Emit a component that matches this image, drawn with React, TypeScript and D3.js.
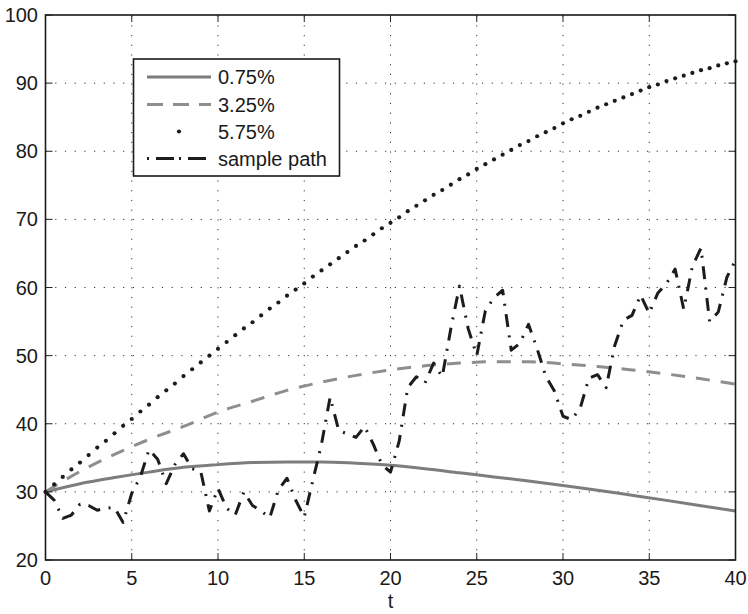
import React from "react";
import * as d3 from "d3";

const X_TICKS = [0, 5, 10, 15, 20, 25, 30, 35, 40];
const Y_TICKS = [20, 30, 40, 50, 60, 70, 80, 90, 100];

// 0.75% (solid) sampled every 2 units of t
const T_SMOOTH = [0, 2, 4, 6, 8, 10, 12, 14, 16, 18, 20, 22, 24, 26, 28, 30, 32, 34, 36, 38, 40];
const RATE_075 = [30, 31.2, 32.1, 32.9, 33.6, 34.0, 34.3, 34.4, 34.4, 34.2, 33.9, 33.4, 32.8, 32.2, 31.6, 30.95, 30.25, 29.5, 28.75, 27.97, 27.2];
const RATE_325 = [30, 33.0, 35.5, 37.7, 39.6, 41.7, 43.3, 44.9, 46.1, 47.1, 47.9, 48.5, 48.9, 49.1, 49.1, 48.8, 48.4, 47.9, 47.3, 46.6, 45.8];

// t grid with step 0.5 (0 .. 40)
const T_FINE = [
  0, 0.5, 1, 1.5, 2, 2.5, 3, 3.5, 4, 4.5, 5, 5.5, 6, 6.5, 7, 7.5, 8, 8.5, 9, 9.5,
  10, 10.5, 11, 11.5, 12, 12.5, 13, 13.5, 14, 14.5, 15, 15.5, 16, 16.5, 17, 17.5, 18, 18.5, 19, 19.5,
  20, 20.5, 21, 21.5, 22, 22.5, 23, 23.5, 24, 24.5, 25, 25.5, 26, 26.5, 27, 27.5, 28, 28.5, 29, 29.5,
  30, 30.5, 31, 31.5, 32, 32.5, 33, 33.5, 34, 34.5, 35, 35.5, 36, 36.5, 37, 37.5, 38, 38.5, 39, 39.5, 40,
];

const RATE_575 = [
  30.0, 31.1, 32.2, 33.3, 34.3, 35.4, 36.5, 37.5, 38.6, 39.7, 40.7, 41.8, 42.8, 43.9, 44.9, 45.9, 47.0, 48.0, 49.0, 50.0,
  51.0, 52.0, 53.0, 54.0, 54.9, 55.9, 56.9, 57.8, 58.8, 59.7, 60.6, 61.6, 62.5, 63.4, 64.3, 65.2, 66.1, 66.9, 67.8, 68.7,
  69.5, 70.3, 71.2, 72.0, 72.8, 73.6, 74.3, 75.1, 75.9, 76.6, 77.4, 78.1, 78.8, 79.5, 80.2, 80.9, 81.5, 82.2, 82.8, 83.4,
  84.1, 84.7, 85.2, 85.8, 86.4, 86.9, 87.4, 87.9, 88.4, 88.9, 89.4, 89.8, 90.3, 90.7, 91.1, 91.5, 91.9, 92.2, 92.6, 92.9, 93.2,
];

const SAMPLE_PATH = [
  30.0, 28.8, 26.1, 26.6, 28.2, 28.0, 27.3, 27.6, 27.7, 25.5, 29.8, 32.2, 36.2, 34.8, 31.2, 34.0, 35.6, 33.4, 33.0, 27.2,
  30.5, 27.6, 26.6, 30.0, 28.0, 27.2, 26.2, 30.3, 32.0, 28.8, 26.3, 31.7, 37.0, 43.9, 39.0, 38.5, 38.0, 39.6, 37.0, 34.0,
  32.9, 37.4, 45.3, 46.9, 46.0, 48.9, 46.9, 54.0, 60.2, 54.0, 50.0, 56.6, 58.5, 59.6, 50.8, 51.8, 54.6, 51.0, 47.0, 44.8,
  41.1, 40.6, 42.3, 46.7, 47.2, 45.3, 51.5, 55.2, 55.9, 58.9, 56.2, 59.2, 60.6, 62.7, 56.8, 63.1, 65.8, 55.0, 56.4, 61.5, 64.0,
];

const LEGEND_LABELS = ["0.75%", "3.25%", "5.75%", "sample path"];

const W = 748;
const H = 614;
const M = { left: 45.5, right: 735.5, top: 15, bottom: 560 };
const FONT = "'Liberation Sans', Arial, Helvetica, sans-serif";

export default function App() {
  const x = d3.scaleLinear().domain([0, 40]).range([M.left, M.right]);
  const y = d3.scaleLinear().domain([20, 100]).range([M.bottom, M.top]);

  const smooth = d3
    .line<number>()
    .x((_, i) => x(T_SMOOTH[i]))
    .y((d) => y(d))
    .curve(d3.curveMonotoneX);
  const fine = d3
    .line<number>()
    .x((_, i) => x(T_FINE[i]))
    .y((d) => y(d));

  const gray1 = "#7d7d7d";
  const gray2 = "#8e8e8e";
  const dark = "#1c1c1c";

  const legendX0 = 133.5;
  const legendY0 = 59;
  const legendW = 206;
  const legendH = 117;
  const rowY = [77, 104.5, 131.5, 158.5];
  const lx1 = 147;
  const lx2 = 211;

  return (
    <svg
      width={W}
      height={H}
      style={{ position: "absolute", left: 0, top: 0, background: "#fff" }}
      fontFamily={FONT}
    >
      <rect x={0} y={0} width={W} height={H} fill="#fff" />
      {/* grid */}
      <g stroke="#333" strokeWidth={1} strokeDasharray="1.2 8.5">
        {X_TICKS.slice(1, -1).map((t) => (
          <line key={"gx" + t} x1={x(t)} x2={x(t)} y1={M.bottom} y2={M.top} />
        ))}
        {Y_TICKS.slice(1, -1).map((v) => (
          <line key={"gy" + v} x1={M.left} x2={M.right} y1={y(v)} y2={y(v)} />
        ))}
      </g>
      {/* series */}
      <path d={smooth(RATE_075) || ""} fill="none" stroke={gray1} strokeWidth={3} />
      <path
        d={smooth(RATE_325) || ""}
        fill="none"
        stroke={gray2}
        strokeWidth={3}
        strokeDasharray="14 11"
      />
      <g fill={dark}>
        {RATE_575.map((v, i) => (
          <circle key={"d" + i} cx={x(T_FINE[i])} cy={y(v)} r={2.1} />
        ))}
      </g>
      <path
        d={fine(SAMPLE_PATH) || ""}
        fill="none"
        stroke={dark}
        strokeWidth={3}
        strokeDasharray="13 8.5 2 8.5"
        strokeLinejoin="round"
      />
      {/* ticks */}
      <g stroke="#222" strokeWidth={1}>
        {X_TICKS.map((t) => (
          <g key={"tx" + t}>
            <line x1={x(t)} x2={x(t)} y1={M.bottom} y2={M.bottom - 7} />
            <line x1={x(t)} x2={x(t)} y1={M.top} y2={M.top + 7} />
          </g>
        ))}
        {Y_TICKS.map((v) => (
          <g key={"ty" + v}>
            <line x1={M.left} x2={M.left + 7} y1={y(v)} y2={y(v)} />
            <line x1={M.right} x2={M.right - 7} y1={y(v)} y2={y(v)} />
          </g>
        ))}
      </g>
      <rect
        x={M.left}
        y={M.top}
        width={M.right - M.left}
        height={M.bottom - M.top}
        fill="none"
        stroke="#1a1a1a"
        strokeWidth={1.6}
      />
      {/* tick labels */}
      <g fontSize={20} fill="#1a1a1a">
        {X_TICKS.map((t) => (
          <text key={"lx" + t} x={x(t)} y={585} textAnchor="middle">
            {t}
          </text>
        ))}
        {Y_TICKS.map((v) => (
          <text key={"ly" + v} x={38} y={y(v) + 7} textAnchor="end">
            {v}
          </text>
        ))}
        <text x={x(20)} y={608} textAnchor="middle">
          t
        </text>
      </g>
      {/* legend */}
      <rect
        x={legendX0}
        y={legendY0}
        width={legendW}
        height={legendH}
        fill="#fff"
        stroke="#1a1a1a"
        strokeWidth={1.6}
      />
      <line x1={lx1} x2={lx2} y1={rowY[0]} y2={rowY[0]} stroke={gray1} strokeWidth={3} />
      <line
        x1={lx1}
        x2={lx2}
        y1={rowY[1]}
        y2={rowY[1]}
        stroke={gray2}
        strokeWidth={3}
        strokeDasharray="16 10"
      />
      <circle cx={(lx1 + lx2) / 2} cy={rowY[2]} r={2.1} fill={dark} />
      <line
        x1={lx1}
        x2={lx2}
        y1={rowY[3]}
        y2={rowY[3]}
        stroke={dark}
        strokeWidth={3}
        strokeDasharray="2 7 18 5"
      />
      <g fontSize={20} fill="#1a1a1a">
        {LEGEND_LABELS.map((l, i) => (
          <text key={l} x={218} y={rowY[i] + 7}>
            {l}
          </text>
        ))}
      </g>
    </svg>
  );
}
